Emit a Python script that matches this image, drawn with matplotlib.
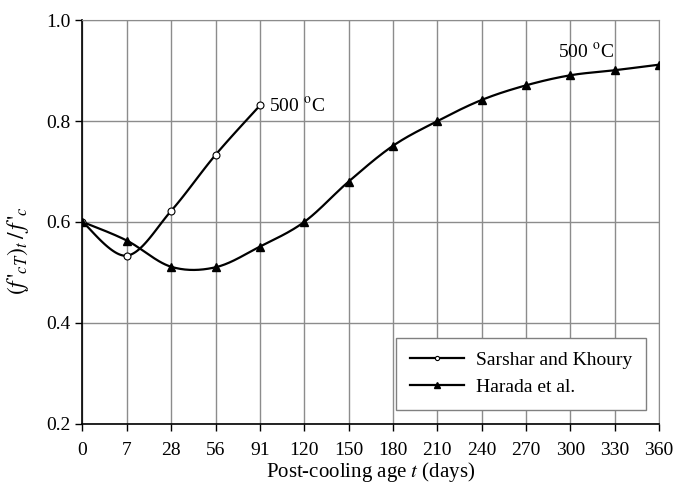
import numpy as np
import matplotlib.pyplot as plt

plt.rcParams['font.family'] = 'Liberation Serif'
plt.rcParams['mathtext.fontset'] = 'stix'

# datos
dias = ['0', '7', '28', '56', '91', '120', '150', '180', '210', '240', '270', '300', '330', '360']
sarshar = [0.60, 0.533, 0.622, 0.733, 0.831]
harada = [0.60, 0.563, 0.511, 0.51, 0.551, 0.60, 0.68, 0.751, 0.80, 0.842, 0.871, 0.891, 0.901, 0.912]


def suavizar(x, y, n=30):
    """Curva suave tipo Excel (Bezier / Catmull-Rom)"""
    x = np.asarray(x, float)
    y = np.asarray(y, float)
    px = np.concatenate([[x[0]], x, [x[-1]]])
    py = np.concatenate([[y[0]], y, [y[-1]]])
    xs, ys = [], []
    t = np.linspace(0, 1, n)
    for i in range(1, len(px) - 2):
        x0, x1, x2, x3 = px[i - 1], px[i], px[i + 1], px[i + 2]
        y0, y1, y2, y3 = py[i - 1], py[i], py[i + 1], py[i + 2]
        cx1, cy1 = x1 + (x2 - x0) / 6, y1 + (y2 - y0) / 6
        cx2, cy2 = x2 - (x3 - x1) / 6, y2 - (y3 - y1) / 6
        bx = (1 - t)**3 * x1 + 3 * (1 - t)**2 * t * cx1 + 3 * (1 - t) * t**2 * cx2 + t**3 * x2
        by = (1 - t)**3 * y1 + 3 * (1 - t)**2 * t * cy1 + 3 * (1 - t) * t**2 * cy2 + t**3 * y2
        xs.extend(bx)
        ys.extend(by)
    return np.array(xs), np.array(ys)


fig, ax = plt.subplots(figsize=(6.76, 4.84), dpi=100)
fig.subplots_adjust(left=0.122, right=0.975, top=0.958, bottom=0.125)

xs_idx = np.arange(len(sarshar))
xh_idx = np.arange(len(harada))

sx, sy = suavizar(xs_idx, sarshar)
hx, hy = suavizar(xh_idx, harada)

ax.plot(sx, sy, color='black', lw=1.6, zorder=3)
ax.plot(xs_idx, sarshar, 'o', ms=5, mfc='white', mec='black', mew=0.8, zorder=4)
ax.plot(hx, hy, color='black', lw=1.6, zorder=3)
ax.plot(xh_idx, harada, '^', ms=6, color='black', zorder=4)

# handles para la leyenda
l1, = ax.plot([], [], 'k-', lw=1.6, marker='o', ms=3, mfc='white', mec='black', mew=0.8)
l2, = ax.plot([], [], 'k-', lw=1.6, marker='^', ms=5)
leg = ax.legend([l1, l2], ['Sarshar and Khoury', 'Harada et al.'],
                loc='lower right', bbox_to_anchor=(0.994, 0.01), fancybox=False,
                framealpha=1, edgecolor='#808080', fontsize=14, handlelength=2.8,
                borderpad=0.7, labelspacing=0.5, handletextpad=0.6)
leg.get_frame().set_linewidth(1.0)

ax.text(4.2, 0.83, '500 $^{\\mathrm{o}}$C', fontsize=14, va='center', ha='left')
ax.text(11.35, 0.918, '500 $^{\\mathrm{o}}$C', fontsize=14, va='bottom', ha='center')

ax.set_xlim(0, len(dias) - 1)
ax.set_ylim(0.2, 1.0)
ax.set_xticks(np.arange(len(dias)))
ax.set_xticklabels(dias)
ax.set_yticks([0.2, 0.4, 0.6, 0.8, 1.0])
ax.set_yticklabels(['0.2', '0.4', '0.6', '0.8', '1.0'])
ax.tick_params(labelsize=14, direction='out', length=5, width=1, colors='black')
ax.tick_params(axis='x', pad=8)
ax.grid(True, color='#8c8c8c', lw=1.0)
ax.set_axisbelow(True)

for lado in ['top', 'right']:
    ax.spines[lado].set_color('#8c8c8c')
for lado in ['left', 'bottom']:
    ax.spines[lado].set_color('black')
    ax.spines[lado].set_linewidth(1.2)

ax.set_xlabel('Post-cooling age $t$ (days)', fontsize=15, labelpad=1)
ax.set_ylabel("$(f\\,'_{cT})_t\\,/\\,f\\,'_c$", fontsize=17)
ax.yaxis.set_label_coords(-0.09, 0.43)

plt.savefig('out.png', dpi=100)
